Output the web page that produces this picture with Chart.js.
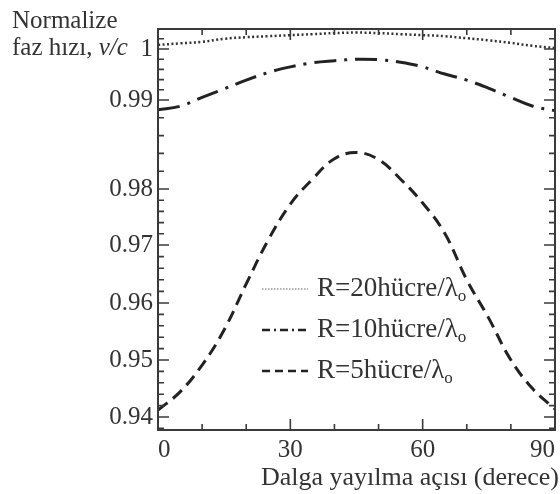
<!DOCTYPE html>
<html><head><meta charset="utf-8">
<script src="https://cdn.jsdelivr.net/npm/chart.js@4.4.1/dist/chart.umd.min.js"></script>
<style>html,body{margin:0;padding:0;background:#fff;}#wrap{width:560px;height:494px;}</style>
</head><body><div id="wrap"><canvas id="c" width="560" height="494"></canvas></div>
<script>
// ---- data ----
const angles = [0,5,10,15,20,25,30,35,40,45,50,55,60,65,70,75,80,85,90];
const r20 = [1.0008,1.0011,1.0014,1.0020,1.0023,1.0025,1.0027,1.0029,1.0031,1.0032,1.0031,1.0029,1.0027,1.0025,1.0021,1.0017,1.0012,1.0006,1.0002];
const r10 = [0.9889,0.9893,0.9905,0.9922,0.9939,0.9954,0.9965,0.9973,0.9977,0.9980,0.9979,0.9974,0.9965,0.9951,0.9939,0.9923,0.9905,0.9893,0.9888];
const r5  = [0.9412,0.9444,0.9491,0.9553,0.9633,0.9709,0.9773,0.9811,0.9834,0.9841,0.9833,0.9811,0.9775,0.9721,0.9640,0.9573,0.9500,0.9449,0.9414];
const seriesNames = ['R=20hücre/λ','R=10hücre/λ','R=5hücre/λ'];
const seriesSub = 'o';
const xTickValues = [0,30,60,90];
const yTickValues = [0.94,0.95,0.96,0.97,0.98,0.99,1];
const xMinorStep = 10, yMinorStep = 0.002;
const yTitleLines = ['Normalize','faz hızı, '];
const yTitleItalic = 'v/c';
const xTitle = 'Dalga yayılma açısı (derece)';

// ---- axis config: the original y axis is not uniformly spaced ----
const yMin = 0.93772, yMax = 1.0039;
const yAnchors = [[0.93772,0],[0.94,0.0324],[0.95,0.1746],[0.96,0.3167],[0.97,0.4613],[0.98,0.6010],[0.99,0.8229],[1.0,0.9501],[1.0039,1]];

class PiecewiseScale extends Chart.LinearScale {
  _frac(v){
    const a = yAnchors;
    let i = 0;
    while (i < a.length-2 && v > a[i+1][0]) i++;
    const [v0,f0] = a[i], [v1,f1] = a[i+1];
    return f0 + (v - v0) / (v1 - v0) * (f1 - f0);
  }
  getPixelForValue(v){
    return this.bottom - this._frac(v) * (this.bottom - this.top);
  }
  getValueForPixel(p){
    const f = (this.bottom - p) / (this.bottom - this.top);
    const a = yAnchors;
    let i = 0;
    while (i < a.length-2 && f > a[i+1][1]) i++;
    const [v0,f0] = a[i], [v1,f1] = a[i+1];
    return v0 + (f - f0) / (f1 - f0) * (v1 - v0);
  }
}
PiecewiseScale.id = 'piecewise';
PiecewiseScale.defaults = Chart.LinearScale.defaults;
Chart.register(PiecewiseScale);

const SERIF = "'Liberation Serif', 'Times New Roman', serif";
const TXT = '#333';

const pts = arr => angles.map((a,i) => ({x:a, y:arr[i]}));

const frameTicks = {
  id: 'frameTicks',
  afterDraw(chart){
    const {ctx, chartArea:a, scales:{x,y}} = chart;
    ctx.save();
    ctx.strokeStyle = '#3a3a3a';
    ctx.lineWidth = 2;
    ctx.strokeRect(a.left, a.top, a.right - a.left, a.bottom - a.top);
    ctx.lineWidth = 1.6;
    ctx.beginPath();
    for (let v = 0; v <= 90 + 1e-9; v += xMinorStep) {
      const px = x.getPixelForValue(v);
      const L = xTickValues.includes(v) ? 11 : 6;
      ctx.moveTo(px, a.bottom); ctx.lineTo(px, a.bottom - L);
      ctx.moveTo(px, a.top); ctx.lineTo(px, a.top + L);
    }
    for (let k = Math.ceil(yMin / yMinorStep); k * yMinorStep <= yMax; k++) {
      const v = k * yMinorStep;
      const py = y.getPixelForValue(v);
      const major = Math.abs(v * 100 - Math.round(v * 100)) < 1e-6;
      const L = major ? 11 : 6;
      ctx.moveTo(a.left, py); ctx.lineTo(a.left + L, py);
      ctx.moveTo(a.right, py); ctx.lineTo(a.right - L, py);
    }
    ctx.stroke();

    // titles
    ctx.fillStyle = TXT;
    ctx.textBaseline = 'alphabetic';
    ctx.textAlign = 'left';
    ctx.font = '25px ' + SERIF;
    ctx.fillText(yTitleLines[0], 12, 28);
    ctx.fillText(yTitleLines[1], 12, 55);
    const w = ctx.measureText(yTitleLines[1]).width;
    ctx.font = 'italic 25px ' + SERIF;
    ctx.fillText(yTitleItalic, 12 + w, 55);
    ctx.font = '26px ' + SERIF;
    ctx.textAlign = 'right';
    ctx.fillText(xTitle, 559, 485);

    // legend
    const samples = [
      {color:'#999', width:1.5, dash:[1.5,1.5]},
      {color:'#222', width:2.5, dash:[8,4,2,4]},
      {color:'#222', width:2.5, dash:[8,5]}
    ];
    chart.data.datasets.forEach((ds, i) => {
      const yy = 289 + 41 * i;
      const s = samples[i];
      ctx.save();
      ctx.strokeStyle = s.color; ctx.lineWidth = s.width; ctx.setLineDash(s.dash);
      ctx.beginPath(); ctx.moveTo(262, yy); ctx.lineTo(308, yy); ctx.stroke();
      ctx.restore();
      ctx.textAlign = 'left';
      ctx.textBaseline = 'middle';
      ctx.font = '27px ' + SERIF;
      ctx.fillText(ds.label, 317, yy);
      const tw = ctx.measureText(ds.label).width;
      ctx.font = '17px ' + SERIF;
      ctx.fillText(seriesSub, 317 + tw, yy + 8);
    });
    ctx.restore();
  }
};

new Chart(document.getElementById('c'), {
  type: 'line',
  data: {
    datasets: [
      {label: seriesNames[0], data: pts(r20), borderColor:'#333', borderWidth:2.5, borderDash:[2,2.5], pointRadius:0, tension:0.4, fill:false},
      {label: seriesNames[1], data: pts(r10), borderColor:'#222', borderWidth:3, borderDash:[22,8,3,8], pointRadius:0, tension:0.4, fill:false},
      {label: seriesNames[2], data: pts(r5), borderColor:'#222', borderWidth:3, borderDash:[12,7], pointRadius:0, tension:0.4, fill:false}
    ]
  },
  options: {
    responsive: false,
    animation: false,
    devicePixelRatio: 1,
    layout: {padding: {top: 29, right: 3, left: 0, bottom: 0}},
    plugins: {legend: {display:false}, tooltip: {enabled:false}},
    scales: {
      x: {
        type: 'linear', min: 0, max: 90,
        afterBuildTicks: s => { s.ticks = xTickValues.map(v => ({value:v})); },
        afterFit: s => { s.height = 64; },
        grid: {display:false, drawTicks:false},
        border: {display:false},
        ticks: {align:'inner', padding: 5, color: TXT, font: {family: SERIF, size: 25}, maxRotation:0, autoSkip:false}
      },
      y: {
        type: 'piecewise', min: yMin, max: yMax,
        afterBuildTicks: s => { s.ticks = yTickValues.map(v => ({value:v})); },
        afterFit: s => { s.width = 158; },
        grid: {display:false, drawTicks:false},
        border: {display:false},
        ticks: {padding: 5, color: TXT, font: {family: SERIF, size: 25}, autoSkip:false,
                callback: v => String(+Number(v).toFixed(2))}
      }
    }
  },
  plugins: [frameTicks]
});
</script></body></html>
